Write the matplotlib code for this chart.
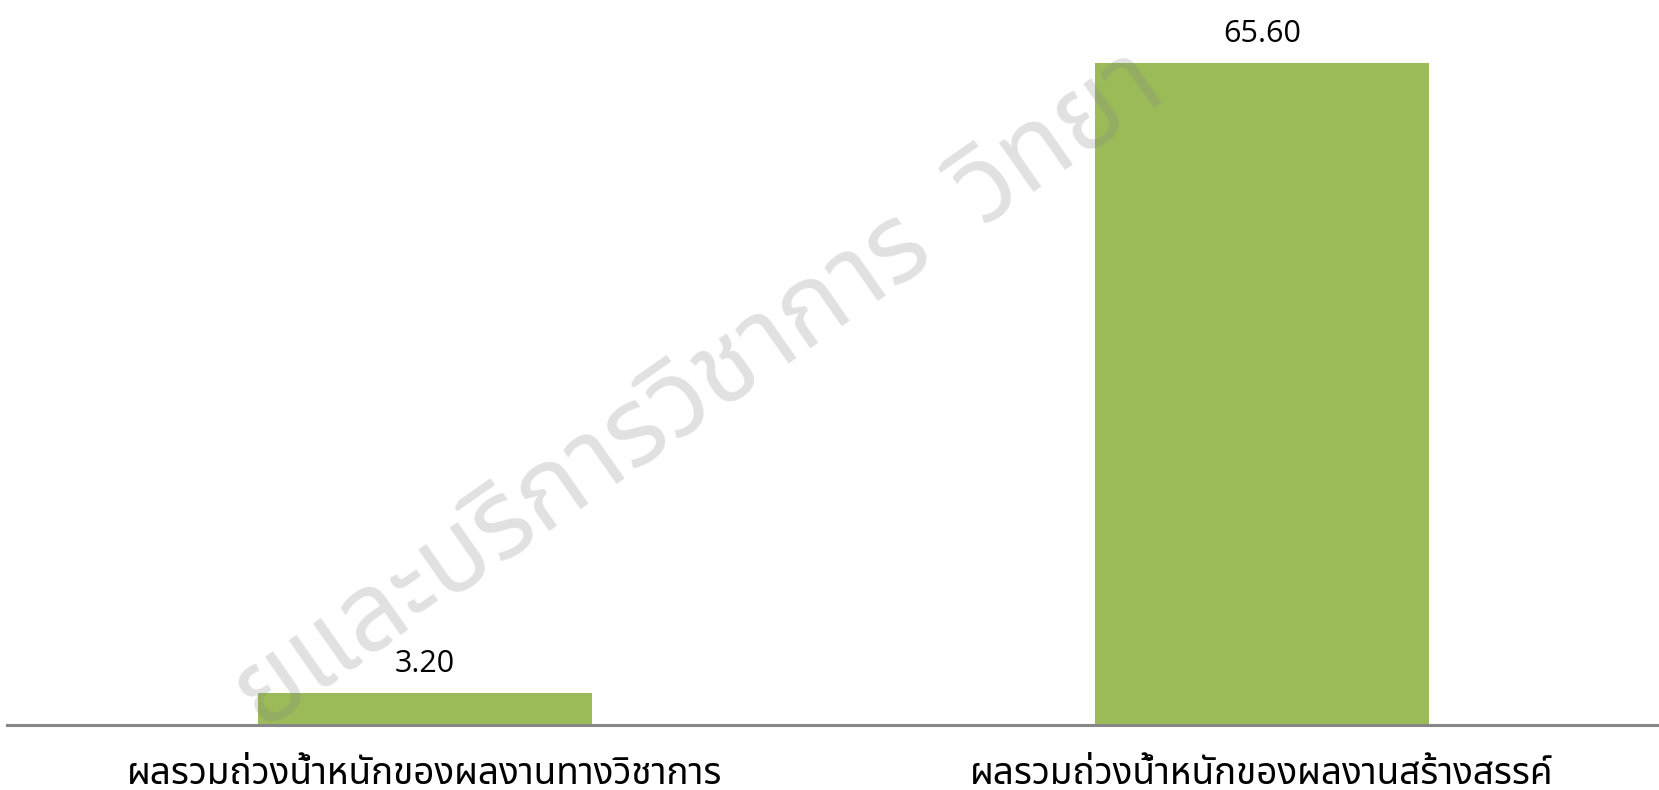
import matplotlib
matplotlib.use("Agg")
import matplotlib.pyplot as plt
from matplotlib import font_manager
from matplotlib.ft2font import FT2Font

categories = ["ผลรวมถ่วงน้ำหนักของผลงานทางวิชาการ", "ผลรวมถ่วงน้ำหนักของผลงานสร้างสรรค์"]
values = [3.20, 65.60]
value_labels = ["3.20", "65.60"]
watermark = "ยและบริการวิชาการ  วิทยา"

# find a font with Thai glyphs
thai_font = None
prefs = ["Noto Sans Thai", "Noto Sans Thai UI", "Loma", "Garuda", "Tlwg Typo", "Sarabun", "Kinnari", "Norasi"]
found = {}
for f in font_manager.fontManager.ttflist:
    try:
        cm = FT2Font(f.fname).get_charmap()
    except Exception:
        continue
    if 0x0E01 in cm and 0x0E33 in cm:
        found.setdefault(f.name, f.fname)
for p in prefs:
    if p in found:
        thai_font = p
        break
if thai_font is None and found:
    thai_font = sorted(found)[0]
thai_family = [thai_font, "DejaVu Sans"] if thai_font else ["DejaVu Sans"]

W, H = 1659, 790
fig = plt.figure(figsize=(W / 100, H / 100), dpi=100)
ax_left = 7 / W
ax_bottom = (H - 725) / H
ax = fig.add_axes([ax_left, ax_bottom, 1 - ax_left, 725 / H])

x = [0, 1]
ax.bar(x, values, width=0.4, color="#9BBB59", zorder=2)
spacing = 1262 - 425
ax.set_xlim(-(425 - 7) / spacing, (W - 425) / spacing)
ax.set_ylim(0, 725 / ((725 - 63) / 65.6))

for s in ["top", "right", "left"]:
    ax.spines[s].set_visible(False)
ax.spines["bottom"].set_color("#878787")
ax.spines["bottom"].set_linewidth(2.2)
ax.set_yticks([])
ax.set_xticks(x)
ax.set_xticklabels(categories, family=thai_family, fontsize=26.5, color="black")
ax.tick_params(axis="x", length=0, pad=23)

for xi, v, lab in zip(x, values, value_labels):
    ax.annotate(lab, (xi, v), xytext=(0, 10), textcoords="offset points",
                ha="center", va="bottom", fontsize=22, family=["Open Sans", "DejaVu Sans"],
                color="black")

fig.text(700 / W, 1 - 392 / H, watermark, rotation=35, ha="center", va="center",
         fontsize=78, family=thai_family, color="#808080", alpha=0.24, zorder=10,
         rotation_mode="anchor")

fig.savefig("out.png", dpi=100, facecolor="white")
